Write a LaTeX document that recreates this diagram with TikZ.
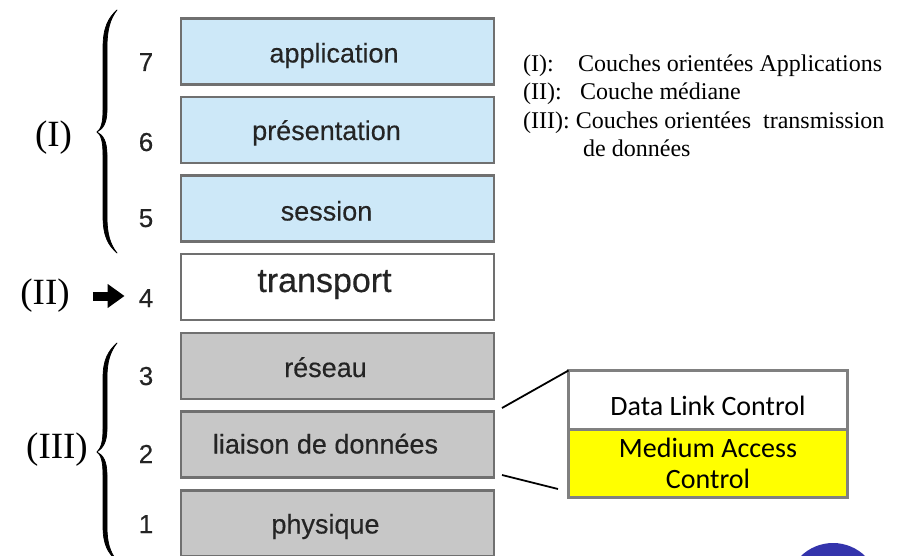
\documentclass[tikz,border=0pt]{standalone}
\usepackage{fontspec}
\setmainfont{Liberation Serif}
\newfontfamily\layerfont[FakeBold=0.35]{Liberation Sans}
\newfontfamily\boxfont{Carlito}
\usetikzlibrary{arrows.meta}

\definecolor{layerblue}{RGB}{205,232,248}
\definecolor{layergray}{RGB}{199,199,199}
\definecolor{layeredge}{RGB}{112,112,112}
\definecolor{layertext}{RGB}{36,36,36}
\definecolor{subedge}{RGB}{128,128,128}
\definecolor{macyellow}{RGB}{255,255,0}
\definecolor{dotblue}{RGB}{52,52,172}

\begin{document}
\begin{tikzpicture}[x=1pt,y=-1pt,
  layer/.style={draw=layeredge, line width=2.4pt, rectangle, outer sep=0pt,
    minimum width=313pt, minimum height=66pt, inner sep=0pt},
  upper/.style={layer, fill=layerblue},
  middle/.style={layer, fill=white},
  lower/.style={layer, fill=layergray},
  ltxt/.style={anchor=base, inner sep=0pt, text=layertext,
    font=\layerfont\fontsize{27}{32}\selectfont},
  num/.style={anchor=base, inner sep=0pt, text=layertext,
    font=\layerfont\fontsize{26}{30}\selectfont},
  grp/.style={inner sep=0pt, font=\fontsize{37}{42}\selectfont},
  legend/.style={anchor=base west, inner sep=0pt, font=\fontsize{24}{28}\selectfont},
  brace/.style={fill=black, draw=black, line width=0.7pt, line join=round},
  sub/.style={draw=subedge, line width=3pt, rectangle, anchor=north west, outer sep=0pt,
    minimum width=279pt, inner sep=0pt, font=\boxfont\fontsize{28}{31}\selectfont, align=center},
  link/.style={draw=black, line width=1.8pt}
]
\clip (0,0) rectangle (904,556);
\fill[white] (0,0) rectangle (904,556);

% the seven layers
\node[upper]  (app)   at (337.5,51.5)  {};
\node[upper]  (pres)  at (337.5,130)   {};
\node[upper]  (sess)  at (337.5,208.5) {};
\node[middle] (trans) at (337.5,287)   {};
\node[lower]  (res)   at (337.5,366)   {};
\node[lower]  (liai)  at (337.5,444.5) {};
\node[lower]  (phys)  at (337.5,523.5) {};

\node[ltxt] (appT)  at ([xshift=-3.5pt,yshift=-11pt]app.center)  {application};
\node[ltxt] (presT) at ([xshift=-11pt,yshift=-10pt]pres.center)  {présentation};
\node[ltxt] (sessT) at ([xshift=-11pt,yshift=-12pt]sess.center)  {session};
\node[ltxt, font=\layerfont\fontsize{34}{40}\selectfont]
            (transT) at ([xshift=-13pt,yshift=-5pt]trans.center) {transport};
\node[ltxt] (resT)  at ([xshift=-12pt,yshift=-11pt]res.center)   {réseau};
\node[ltxt] (liaiT) at ([xshift=-12pt,yshift=-9pt]liai.center)   {liaison de données};
\node[ltxt] (physT) at ([xshift=-12pt,yshift=-10pt]phys.center)  {physique};

% layer numbers
\node[num] (n7) at (146,71)  {7};
\node[num] (n6) at (146,151) {6};
\node[num] (n5) at (146,227) {5};
\node[num] (n4) at (146,307) {4};
\node[num] (n3) at (146,385) {3};
\node[num] (n2) at (146,463) {2};
\node[num] (n1) at (146,533) {1};

% group labels
\node[grp] (gI)   at (53.5,138) {(I)};
\node[grp] (gII)  at (45,296)   {(II)};
\node[grp] (gIII) at (57,450)   {(III)};

% braces
\path[brace] (117,10) .. controls (108,18) and (103,28) .. (103,48) -- (103,110)
  .. controls (103,123) and (101,129) .. (97,132)
  .. controls (103,129) and (107,123) .. (107,110) -- (107,48)
  .. controls (107,30) and (110,19) .. (117,10) -- cycle;
\path[brace] (97,132) .. controls (101,135) and (103,141) .. (103,155) -- (103,216)
  .. controls (103,236) and (108,245) .. (117,253)
  .. controls (110,244) and (107,234) .. (107,216) -- (107,155)
  .. controls (107,141) and (103,135) .. (97,132) -- cycle;
\path[brace] (117,343) .. controls (108,351) and (103,360) .. (103,378) -- (103,429)
  .. controls (103,442) and (101,448) .. (97,452)
  .. controls (103,448) and (107,442) .. (107,429) -- (107,378)
  .. controls (107,362) and (110,352) .. (117,343) -- cycle;
\path[brace] (97,452) .. controls (101,455) and (103,461) .. (103,475) -- (103,526)
  .. controls (103,545) and (108,553) .. (117,561)
  .. controls (110,552) and (107,543) .. (107,526) -- (107,475)
  .. controls (107,461) and (103,455) .. (97,452) -- cycle;

% arrow pointing at the transport layer
\draw[line width=9pt, line cap=butt, shorten <=23pt, shorten >=14pt,
      -{Triangle[length=17pt,width=23pt]}]
  (gII.east) -- (gII.east -| n4.west);

% legend
\node[legend] (lg1a) at (523,72)  {(I):};
\node[legend] (lg1b) at (578,72)  {Couches orientées Applications};
\node[legend] (lg2a) at (523,100) {(II):};
\node[legend] (lg2b) at (580,100) {Couche médiane};
\node[legend] (lg3)  at (523,129) {(III): Couches orientées~ transmission};
\node[legend] (lg4)  at (583,157) {de données};

% sublayers of the data link layer
\node[sub, fill=white, minimum height=58.5pt, text height=32pt, text depth=0pt]
  (dlc) at (568.5,370.5) {Data Link Control};
\node[sub, fill=macyellow, minimum height=68.5pt]
  (mac) at (dlc.south west) {Medium Access\\Control};

\coordinate (upA) at (502,408);
\coordinate (loA) at (502,475);
\coordinate (loB) at (558,489);
\draw[link] (upA) -- (dlc.north west);
\draw[link] (loA) -- (loB);

% round badge in the corner
\node[circle, fill=dotblue, minimum size=92pt, inner sep=0pt] (dot) at (833,589) {};
\end{tikzpicture}
\end{document}
